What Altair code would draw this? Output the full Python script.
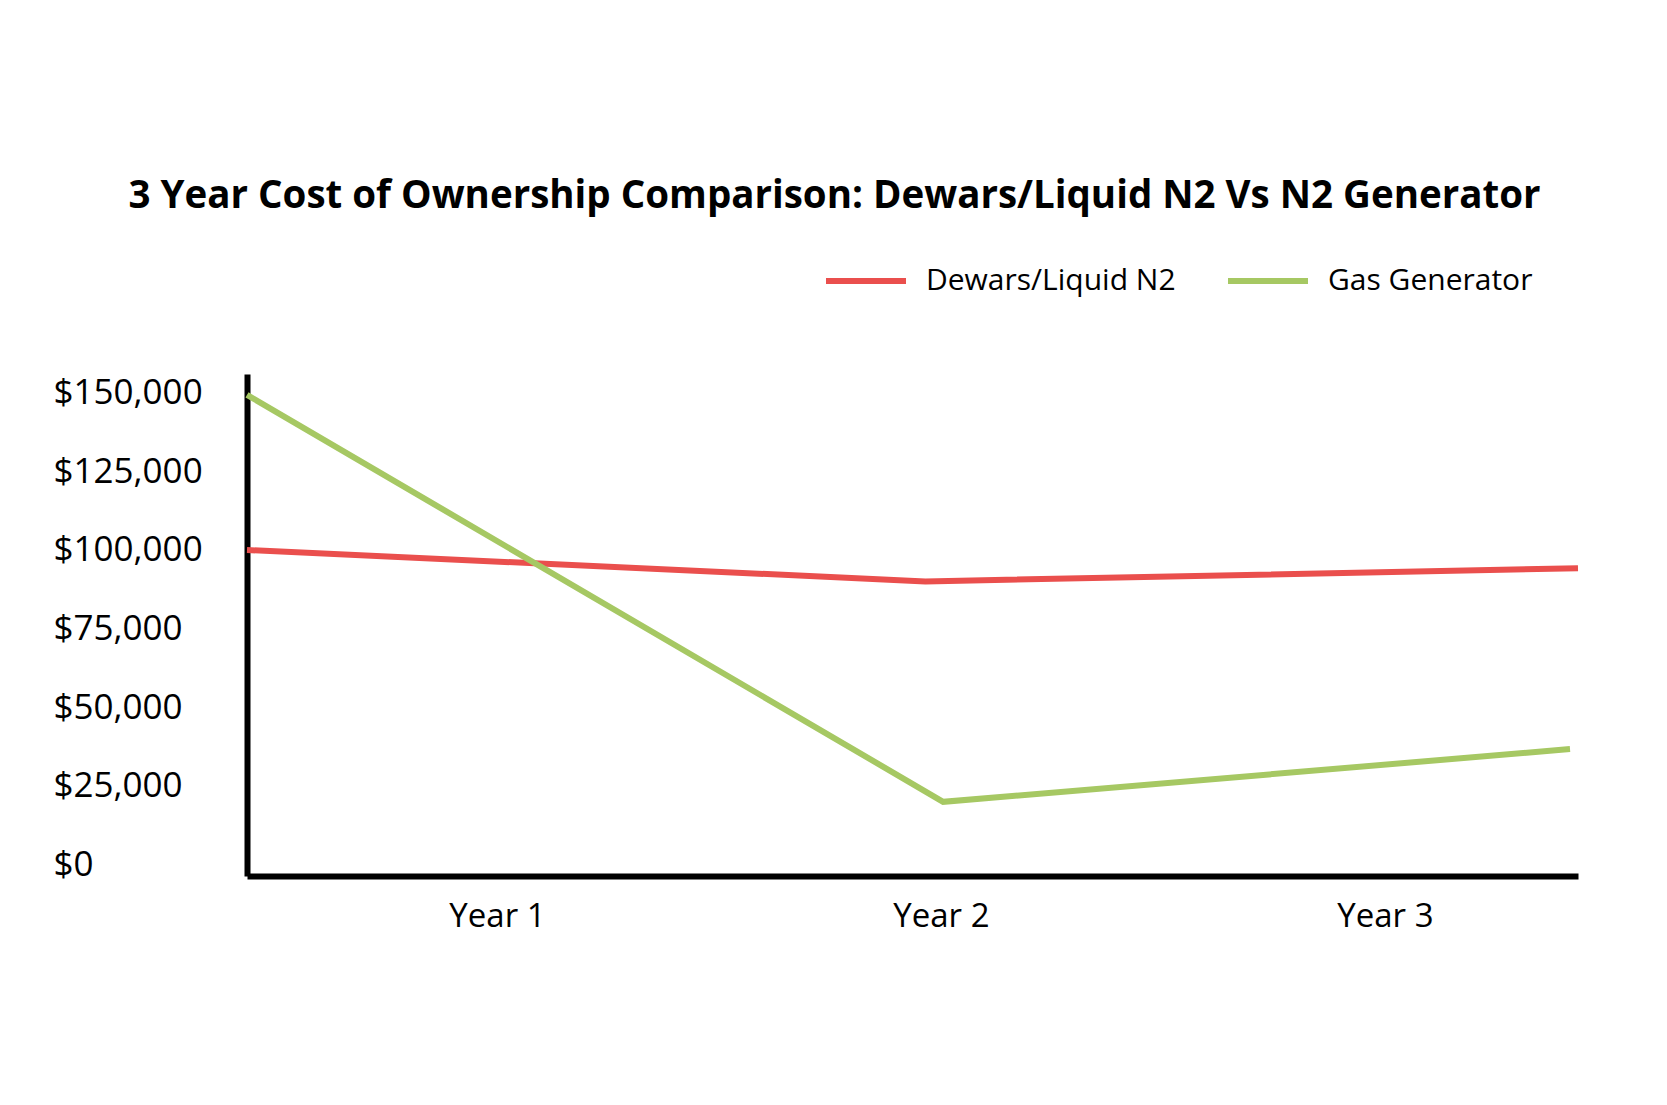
import altair as alt
import pandas as pd

# Series values (x in year units: Year 1 = 1, Year 2 = 2, Year 3 = 3)
series_names = ["Dewars/Liquid N2", "Gas Generator"]
series_colors = ["#EA4F4D", "#A6C863"]

dewars_x = [0.437, 1.965, 3.435]
dewars_cost = [100000, 90000, 94200]

gas_x = [0.437, 2.005, 3.417]
gas_cost = [149400, 19800, 36600]

year_ticks = [1, 2, 3]
cost_ticks = [0, 25000, 50000, 75000, 100000, 125000, 150000]

df = pd.concat(
    [
        pd.DataFrame({"series": series_names[0], "x": dewars_x, "cost": dewars_cost}),
        pd.DataFrame({"series": series_names[1], "x": gas_x, "cost": gas_cost}),
    ],
    ignore_index=True,
)

FONT = "Open Sans"

chart = (
    alt.Chart(df)
    .mark_line(strokeWidth=6, strokeCap="butt")
    .encode(
        x=alt.X(
            "x:Q",
            title=None,
            scale=alt.Scale(domain=[0.437, 3.435], nice=False, zero=False),
            axis=alt.Axis(
                values=year_ticks,
                labelExpr="'Year ' + datum.value",
                ticks=False,
                grid=False,
                domainColor="black",
                domainWidth=6,
                labelFont=FONT,
                labelFontSize=33,
                labelColor="black",
                labelPadding=24,
                labelBaseline="top",
            ),
        ),
        y=alt.Y(
            "cost:Q",
            title=None,
            scale=alt.Scale(domain=[-3820, 156050], nice=False, zero=False),
            axis=alt.Axis(
                values=cost_ticks,
                format="$,.0f",
                ticks=False,
                grid=False,
                domainColor="black",
                domainWidth=6,
                labelFont=FONT,
                labelFontSize=35,
                labelColor="black",
                labelAlign="left",
                labelBaseline="middle",
                labelPadding=194,
            ),
        ),
        color=alt.Color(
            "series:N",
            scale=alt.Scale(domain=series_names, range=series_colors),
            legend=alt.Legend(
                title=None,
                orient="none",
                direction="horizontal",
                legendX=576,
                legendY=-136,
                symbolType="stroke",
                symbolSize=6400,
                symbolStrokeWidth=6,
                labelFont=FONT,
                labelFontSize=30,
                labelColor="black",
                labelLimit=0,
                labelOffset=17,
                columnPadding=40,
                padding=0,
            ),
        ),
        order="x:Q",
    )
    .properties(
        width=1331,
        height=502,
        padding={"left": 239, "top": 366, "right": 70, "bottom": 150},
        autosize=alt.AutoSizeParams(type="none"),
        title=alt.TitleParams(
            "3 Year Cost of Ownership Comparison: Dewars/Liquid N2 Vs N2 Generator",
            font=FONT,
            fontSize=38.5,
            fontWeight="bold",
            color="black",
            anchor="middle",
            frame="group",
            dx=-78,
            offset=22,
        ),
    )
    .configure_view(stroke=None)
)

chart.save("out.html", embed_options={"renderer": "svg", "actions": False})
